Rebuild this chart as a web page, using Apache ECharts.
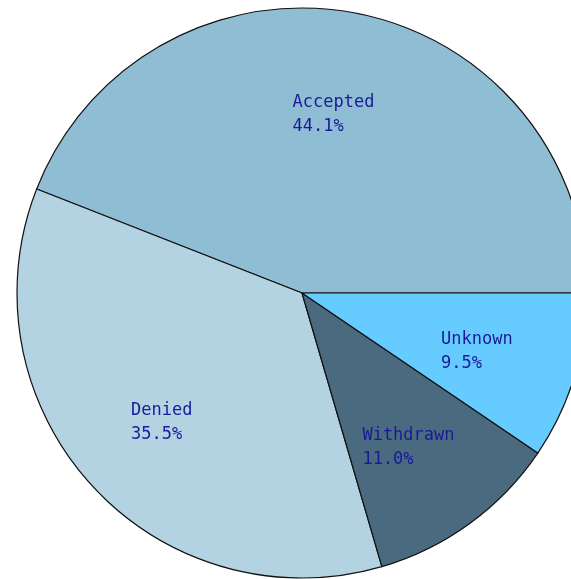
<!DOCTYPE html>
<html lang="en">
<head>
    <meta charset="UTF-8">
    <title>Pie</title>
    <script src="https://cdn.jsdelivr.net/npm/echarts@6/dist/echarts.min.js"></script>
    <style>
        html, body { margin: 0; padding: 0; background: #fff; }
        #chart { width: 571px; height: 579px; }
    </style>
</head>
<body>
<div id="chart"></div>
<script>
// slice data, counter-clockwise from 3 o'clock
const categories = ['Accepted', 'Denied', 'Withdrawn', 'Unknown'];
const percents = [44.1, 35.5, 11.0, 9.5];
const colors = ['#8fbdd4', '#b3d3e3', '#4a6b7f', '#66ccff'];

const chart = echarts.init(document.getElementById('chart'));

const pieData = categories.map((name, i) => ({
    name: name,
    value: percents[i],
    itemStyle: { color: colors[i] }
}));

// same slices, invisible, only used to push labels out to ~0.64r
const labelData = categories.map((name, i) => ({
    name: name,
    value: percents[i]
}));

chart.setOption({
    animation: false,
    series: [
        {
            type: 'pie',
            center: [302, 293],
            radius: 285,
            startAngle: 0,
            clockwise: false,
            silent: true,
            data: pieData,
            itemStyle: { borderColor: '#111', borderWidth: 1.2 },
            label: { show: false },
            labelLine: { show: false },
            emphasis: { disabled: true }
        },
        {
            type: 'pie',
            center: [302, 293],
            radius: 366,
            startAngle: 0,
            clockwise: false,
            silent: true,
            avoidLabelOverlap: false,
            data: labelData,
            itemStyle: { color: 'transparent', borderWidth: 0 },
            labelLine: { show: false },
            emphasis: { disabled: true },
            label: {
                show: true,
                position: 'inside',
                offset: [-3, 4],
                formatter: p => '{a|' + p.name + '}\n{a|' + p.value.toFixed(1) + '%}',
                rich: {
                    a: {
                        align: 'left',
                        fontFamily: '"DejaVu Sans Mono", monospace',
                        fontSize: 17,
                        lineHeight: 24,
                        color: '#1a1a99'
                    }
                }
            }
        }
    ]
});
</script>
</body>
</html>
